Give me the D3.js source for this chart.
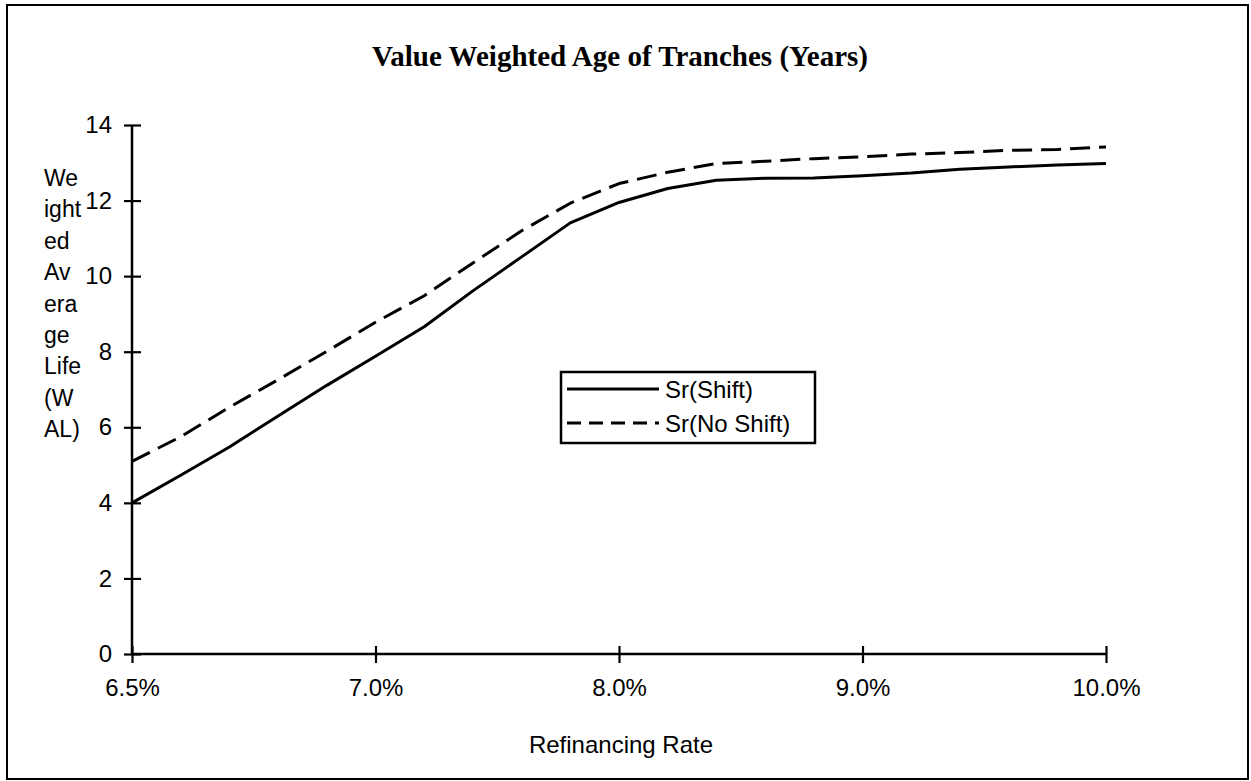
<!DOCTYPE html>
<html>
<head>
<meta charset="utf-8">
<script src="https://cdn.jsdelivr.net/npm/d3@7"></script>
<style>
  html, body { margin: 0; padding: 0; background: #fff; }
  svg { display: block; }
</style>
</head>
<body>
<svg id="chart" width="1251" height="781"></svg>
<script>
// ---- data ----
const rates = ["6.5%","6.6%","6.7%","6.8%","6.9%","7.0%","7.2%","7.4%","7.6%","7.8%","8.0%",
               "8.2%","8.4%","8.6%","8.8%","9.0%","9.2%","9.4%","9.6%","9.8%","10.0%"];
const tickLabels = ["6.5%","7.0%","8.0%","9.0%","10.0%"];
const srShift   = [4.00,4.73,5.48,6.30,7.11,7.88,8.66,9.61,10.51,11.41,11.95,
                   12.32,12.54,12.59,12.60,12.66,12.73,12.83,12.89,12.94,12.98];
const srNoShift = [5.10,5.75,6.53,7.26,8.01,8.78,9.48,10.35,11.20,11.93,12.45,
                   12.75,12.98,13.04,13.11,13.16,13.23,13.27,13.33,13.35,13.42];
const yTicks = [0,2,4,6,8,10,12,14];
const seriesNames = ["Sr(Shift)","Sr(No Shift)"];
const yTitleLines = ["We","ight","ed","Av","era","ge","Life","(W","AL)"];
const chartTitle = "Value Weighted Age of Tranches (Years)";
const xTitle = "Refinancing Rate";

// ---- layout ----
const svg = d3.select("#chart");
const sans = "'Liberation Sans', Arial, Helvetica, sans-serif";
const serif = "'Liberation Serif', 'Times New Roman', serif";

const x = d3.scalePoint().domain(rates).range([132, 1106]);
const y = d3.scaleLinear().domain([0, 14]).range([654, 125]);

// outer frame
svg.append("rect").attr("x", 7).attr("y", 5).attr("width", 1241).attr("height", 774)
  .attr("fill", "none").attr("stroke", "#000").attr("stroke-width", 2);

// title
svg.append("text").attr("x", 620).attr("y", 66).attr("text-anchor", "middle")
  .attr("font-family", serif).attr("font-weight", "bold").attr("font-size", 29)
  .text(chartTitle);

// y axis
const yAxis = svg.append("g").attr("transform", "translate(132,0)")
  .call(d3.axisLeft(y).tickValues(yTicks).tickSize(8).tickSizeOuter(0).tickPadding(12));
yAxis.select(".domain").attr("stroke-width", 2.5).attr("d", `M0,${y(0)}V${y(14)}`);
yAxis.selectAll(".tick line").attr("x1", 9).attr("x2", -8).attr("stroke-width", 2.2);
yAxis.selectAll(".tick text").attr("font-family", sans).attr("font-size", 24).attr("fill", "#000");

// x axis
const xAxis = svg.append("g").attr("transform", `translate(0,${y(0)})`)
  .call(d3.axisBottom(x).tickValues(tickLabels).tickSize(9).tickSizeOuter(0).tickPadding(16));
xAxis.select(".domain").attr("stroke-width", 2.5).attr("d", `M${x(rates[0])},0H${x(rates[rates.length-1])}`);
xAxis.selectAll(".tick line").attr("y1", -8).attr("y2", 9).attr("stroke-width", 2.2);
xAxis.selectAll(".tick text").attr("font-family", sans).attr("font-size", 24).attr("fill", "#000");

// axis titles
svg.append("text").attr("x", 621).attr("y", 753).attr("text-anchor", "middle")
  .attr("font-family", sans).attr("font-size", 24).text(xTitle);
svg.append("g").selectAll("text").data(yTitleLines).join("text")
  .attr("x", 44).attr("y", (d, i) => 186 + i * 31.4)
  .attr("font-family", sans).attr("font-size", 23).text(d => d);

// lines
const line = d3.line().x((d, i) => x(rates[i])).y(d => y(d));
svg.append("path").datum(srShift).attr("d", line)
  .attr("fill", "none").attr("stroke", "#000").attr("stroke-width", 3).attr("stroke-linejoin", "round");
svg.append("path").datum(srNoShift).attr("d", line)
  .attr("fill", "none").attr("stroke", "#000").attr("stroke-width", 3)
  .attr("stroke-dasharray", "20,9").attr("stroke-linejoin", "round");

// legend
const lg = svg.append("g");
lg.append("rect").attr("x", 561).attr("y", 372).attr("width", 254).attr("height", 71)
  .attr("fill", "#fff").attr("stroke", "#000").attr("stroke-width", 2.5);
const rows = [{name: seriesNames[0], dash: null, yy: 389}, {name: seriesNames[1], dash: "14,8", yy: 423}];
rows.forEach(r => {
  const l = lg.append("line").attr("x1", 567).attr("x2", 659).attr("y1", r.yy).attr("y2", r.yy)
    .attr("stroke", "#000").attr("stroke-width", 2.8);
  if (r.dash) l.attr("stroke-dasharray", r.dash);
  lg.append("text").attr("x", 665).attr("y", r.yy + 8.5)
    .attr("font-family", sans).attr("font-size", 24).text(r.name);
});
</script>
</body>
</html>
